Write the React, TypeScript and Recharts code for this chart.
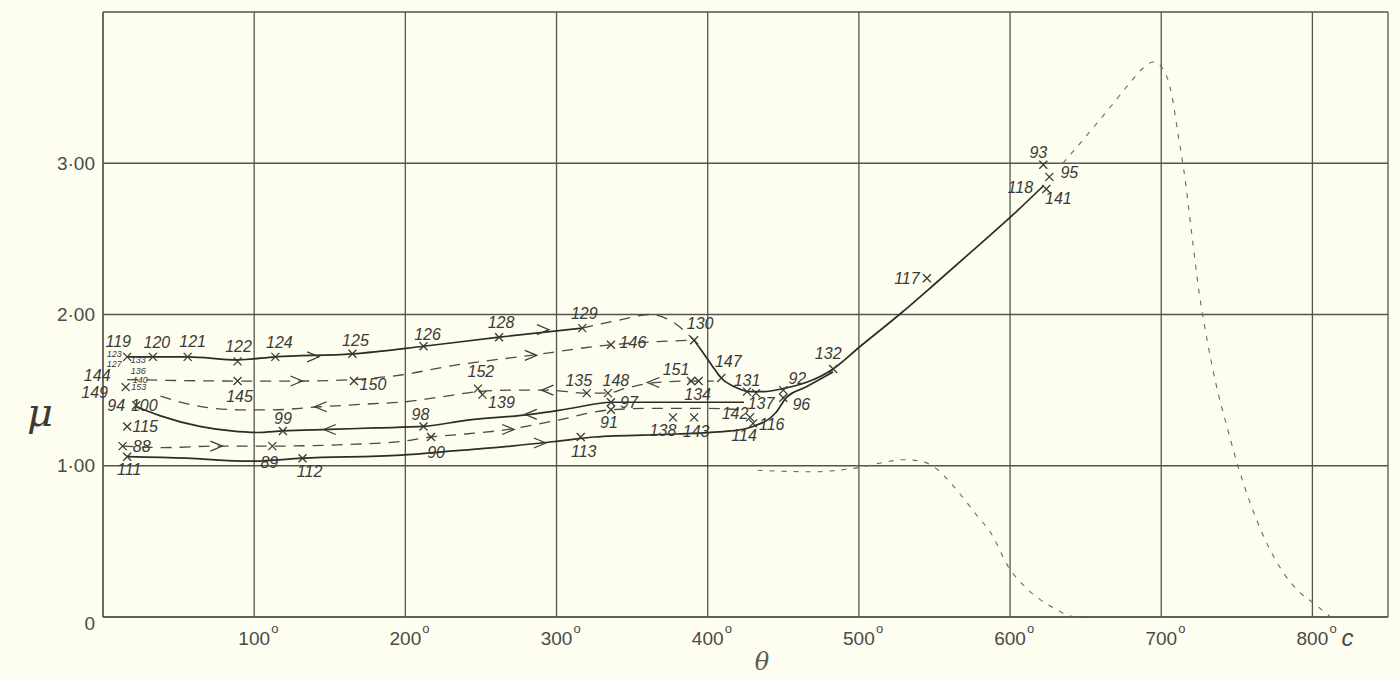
import React from 'react';
import { ComposedChart, Line, Scatter, XAxis, YAxis, CartesianGrid } from 'recharts';

// permeability μ against temperature θ (°C): [θ, μ]
const heatTop: [number, number][] = [[16, 1.72], [33, 1.72], [56, 1.72], [89, 1.7], [114, 1.72], [165, 1.74], [212, 1.79], [262, 1.85], [317, 1.91]];
const heatTopDash: [number, number][] = [[317, 1.91], [340, 1.96], [362, 2.0], [377, 1.95], [391, 1.83]];
const drop130: [number, number][] = [[391, 1.83], [396, 1.76], [403, 1.66], [409, 1.58], [418, 1.52], [426, 1.49]];
const mainRise: [number, number][] = [[426, 1.49], [437, 1.49], [450, 1.51], [465, 1.55], [483, 1.64], [501, 1.79], [528, 2.01], [550, 2.2], [575, 2.42], [602, 2.66], [622, 2.85]];
const heatMid: [number, number][] = [[16, 1.57], [89, 1.56], [128, 1.56], [166, 1.57], [197, 1.6], [230, 1.66], [283, 1.73], [336, 1.8], [365, 1.82], [391, 1.83]];
const coolMid: [number, number][] = [[38, 1.46], [60, 1.4], [90, 1.37], [112, 1.37], [144, 1.39], [178, 1.41], [197, 1.42], [220, 1.45], [248, 1.49], [270, 1.5], [294, 1.5], [320, 1.48], [334, 1.48], [345, 1.51], [365, 1.55], [389, 1.56], [404, 1.56]];
const coolLow: [number, number][] = [[22, 1.39], [38, 1.33], [64, 1.26], [85, 1.23], [102, 1.22], [119, 1.23], [150, 1.24], [180, 1.25], [212, 1.26], [240, 1.3], [283, 1.34], [310, 1.38], [336, 1.42], [380, 1.42], [424, 1.42]];
const heatLow: [number, number][] = [[13, 1.13], [40, 1.12], [75, 1.13], [112, 1.13], [160, 1.14], [197, 1.16], [217, 1.19], [240, 1.21], [268, 1.24], [300, 1.3], [336, 1.37], [365, 1.38], [395, 1.38], [424, 1.37]];
const heatBottom: [number, number][] = [[16, 1.06], [55, 1.05], [97, 1.03], [132, 1.05], [197, 1.07], [234, 1.1], [270, 1.13], [307, 1.17], [325, 1.19], [380, 1.21], [415, 1.23], [430, 1.26], [445, 1.35], [452, 1.45], [465, 1.52], [483, 1.62]];
const lowRight: [number, number][] = [[433, 0.97], [470, 0.96], [486, 0.97], [501, 0.99], [515, 1.02], [530, 1.04], [541, 1.03], [550, 0.99], [563, 0.86], [579, 0.66], [587, 0.56], [599, 0.33], [612, 0.18], [627, 0.07], [645, 0], [660, 0]];
const highRight: [number, number][] = [[635, 3.0], [647, 3.14], [667, 3.38], [680, 3.54], [687, 3.62], [695, 3.67], [702, 3.61], [707, 3.45], [711, 3.2], [715, 2.95], [720, 2.55], [725, 2.15], [730, 1.85], [736, 1.55], [744, 1.24], [751, 0.99], [764, 0.62], [781, 0.29], [792, 0.16], [801, 0.09], [812, 0]];

// numbered observations: [number, θ, μ]
const observations: [string, number, number][] = [
  ['119', 16, 1.72], ['123', 16, 1.72], ['120', 33, 1.72], ['121', 56, 1.72], ['122', 89, 1.69], ['124', 114, 1.72],
  ['125', 165, 1.74], ['126', 212, 1.79], ['128', 262, 1.85], ['129', 317, 1.91], ['130', 391, 1.83], ['146', 336, 1.8],
  ['147', 409, 1.58], ['131', 426, 1.49], ['137', 432, 1.48], ['151', 389, 1.56], ['134', 394, 1.56], ['152', 248, 1.51],
  ['139', 251, 1.47], ['135', 320, 1.48], ['148', 334, 1.48], ['97', 336, 1.42], ['91', 336, 1.37], ['98', 212, 1.26],
  ['90', 217, 1.19], ['113', 316, 1.19], ['138', 377, 1.32], ['143', 391, 1.32], ['142', 428, 1.32], ['114', 430, 1.28],
  ['116', 445, 1.35], ['92', 450, 1.5], ['96', 450, 1.45], ['132', 483, 1.64], ['117', 545, 2.24], ['93', 622, 2.99],
  ['95', 626, 2.91], ['118', 622, 2.84], ['141', 624, 2.83], ['127', 16, 1.69], ['133', 16, 1.69], ['136', 16, 1.62],
  ['140', 16, 1.57], ['144', 16, 1.58], ['153', 15, 1.52], ['149', 15, 1.52], ['94', 22, 1.4], ['100', 22, 1.4],
  ['115', 16, 1.26], ['88', 13, 1.13], ['111', 16, 1.06], ['89', 112, 1.13], ['112', 132, 1.05], ['99', 119, 1.23],
  ['145', 89, 1.56], ['150', 166, 1.56],
];

// arrowheads along the curves: heating (→) and cooling (←)
const arrowsHeat: [number, number][] = [[139, 1.72], [291, 1.9], [128, 1.56], [283, 1.73], [75, 1.13], [268, 1.24], [289, 1.15]];
const arrowsCool: [number, number][] = [[144, 1.39], [294, 1.5], [364, 1.55], [150, 1.24], [283, 1.34]];

const xTicks = [0, 100, 200, 300, 400, 500, 600, 700, 800, 850];
const yTicks = [0, 1, 2, 3, 4];
const yTickText: Record<number, string> = { 0: '0', 1: '1·00', 2: '2·00', 3: '3·00' };

// where each number is written relative to its cross (px)
const labelAt: Record<string, [number, number]> = {
  '119': [-9, -15], '123': [-13, -3], '120': [4, -14], '121': [5, -15], '122': [1, -15], '124': [4, -14], '125': [3, -13],
  '126': [4, -12], '128': [2, -15], '129': [2, -15], '130': [6, -17], '146': [22, -2], '147': [7, -17], '131': [0, -11],
  '137': [5, 10], '151': [-15, -12], '134': [-1, 13], '152': [3, -17], '139': [19, 8], '135': [-8, -13], '148': [8, -13],
  '97': [18, 0], '91': [-2, 13], '98': [-3, -12], '90': [5, 15], '113': [3, 14], '138': [-10, 13], '143': [2, 14],
  '142': [-15, -4], '114': [-9, 12], '116': [-4, 12], '92': [14, -12], '96': [18, 7], '132': [-5, -15], '117': [-20, 0],
  '93': [-5, -12], '95': [20, -4], '118': [-23, 0], '141': [12, 10], '127': [-13, 3], '133': [11, -1], '136': [11, -1],
  '140': [13, 0], '144': [-30, -3], '153': [13, 0], '149': [-31, 5], '94': [-20, 0], '100': [8, 0], '115': [18, 0],
  '88': [19, 0], '111': [2, 13], '89': [-3, 16], '112': [7, 13], '99': [0, -12], '145': [2, 15], '150': [19, 3],
};
const smallLabels = ['123', '127', '133', '136', '140', '153'];
const noCross = ['119', '127', '133', '136', '140', '144', '149', '94', '118', '116'];

const pts = (a: [number, number][]) => a.map(([t, mu]) => ({ t, mu }));
const obsData = observations.map(([n, t, mu]) => ({ n, t, mu }));

const INK = '#3a3a36';
const GRID = '#55554f';
const FONT = '"Liberation Sans", Arial, sans-serif';

const ObsMark = (props: any) => {
  const { cx, cy, payload } = props;
  if (cx == null || cy == null) return null;
  const [dx, dy] = labelAt[payload.n] ?? [10, -10];
  const small = smallLabels.includes(payload.n);
  return (
    <g>
      {!noCross.includes(payload.n) && (
        <path d={`M${cx - 4},${cy - 4}L${cx + 4},${cy + 4}M${cx + 4},${cy - 4}L${cx - 4},${cy + 4}`} stroke={INK} strokeWidth={1.3} />
      )}
      <text x={cx + dx} y={cy + dy} textAnchor="middle" dominantBaseline="central" fontFamily={FONT}
        fontStyle="italic" fontSize={small ? 9 : 16} fill={INK}>{payload.n}</text>
    </g>
  );
};

const arrowShape = (dir: number) => (props: any) => {
  const { cx, cy } = props;
  if (cx == null || cy == null) return null;
  return <path d={`M${cx - 6 * dir},${cy - 5}L${cx + 6 * dir},${cy}L${cx - 6 * dir},${cy + 5}`} fill="none" stroke={INK} strokeWidth={1.2} />;
};

const YTick = ({ x, y, payload }: any) => {
  const s = yTickText[payload.value];
  if (!s) return null;
  return (
    <text x={x} y={y + (payload.value === 0 ? 6 : 0)} textAnchor="end" dominantBaseline="central"
      fontFamily={FONT} fontSize={19} fill="#4a4a46">{s}</text>
  );
};

const XTick = ({ x, y, payload }: any) => {
  const v = payload.value;
  if (v === 0 || v === 850) return null;
  return (
    <g fontFamily={FONT} fill="#4a4a46">
      <text x={x} y={y + 13} textAnchor="middle" dominantBaseline="central" fontSize={19}>{v}</text>
      <text x={x + 17} y={y + 3} dominantBaseline="central" fontSize={13}>o</text>
      {v === 800 && <text x={x + 29} y={y + 12} dominantBaseline="central" fontSize={24} fontStyle="italic">c</text>}
    </g>
  );
};

const solid = { stroke: '#2c2c28', strokeWidth: 1.7 };
const dashed = { stroke: '#4a4a46', strokeWidth: 1.3, strokeDasharray: '11 8' };
const fine = { stroke: '#6a6a64', strokeWidth: 1.1, strokeDasharray: '5 7' };

const curves = [
  { key: 'heatTop', data: heatTop, style: solid },
  { key: 'heatTopDash', data: heatTopDash, style: dashed },
  { key: 'drop130', data: drop130, style: solid },
  { key: 'mainRise', data: mainRise, style: solid },
  { key: 'heatMid', data: heatMid, style: dashed },
  { key: 'coolMid', data: coolMid, style: dashed },
  { key: 'coolLow', data: coolLow, style: solid },
  { key: 'heatLow', data: heatLow, style: dashed },
  { key: 'heatBottom', data: heatBottom, style: solid },
  { key: 'lowRight', data: lowRight, style: fine },
  { key: 'highRight', data: highRight, style: fine },
];

export default function App() {
  return (
    <div style={{ position: 'absolute', left: 0, top: 0, width: 1400, height: 680, background: '#fdfdf0' }}>
      <ComposedChart width={1400} height={680} margin={{ top: 12, right: 12, bottom: 13, left: 0 }}>
        <CartesianGrid stroke={GRID} strokeWidth={1.3} />
        <XAxis
          type="number"
          dataKey="t"
          domain={[0, 850]}
          ticks={xTicks}
          interval={0}
          tickLine={false}
          axisLine={{ stroke: GRID, strokeWidth: 1.3 }}
          tick={<XTick />}
          height={50}
          label={{
            content: () => (
              <text x={762} y={662} textAnchor="middle" dominantBaseline="central" fontFamily='"DejaVu Serif", serif'
                fontStyle="italic" fontSize={24} fill="#5a5a55">θ</text>
            ),
          }}
        />
        <YAxis
          type="number"
          dataKey="mu"
          domain={[0, 4]}
          ticks={yTicks}
          interval={0}
          tickLine={false}
          axisLine={{ stroke: GRID, strokeWidth: 1.3 }}
          tick={<YTick />}
          width={103}
          label={{
            content: () => (
              <text x={40} y={412} textAnchor="middle" dominantBaseline="central" fontFamily='"DejaVu Serif", serif'
                fontStyle="italic" fontSize={40} fill="#3a3a36">μ</text>
            ),
          }}
        />
        {curves.map(c => (
          <Line
            key={c.key}
            data={pts(c.data)}
            dataKey="mu"
            type="monotone"
            dot={false}
            activeDot={false}
            isAnimationActive={false}
            {...c.style}
          />
        ))}
        <Scatter data={pts(arrowsHeat)} dataKey="mu" shape={arrowShape(1)} isAnimationActive={false} />
        <Scatter data={pts(arrowsCool)} dataKey="mu" shape={arrowShape(-1)} isAnimationActive={false} />
        <Scatter data={obsData} dataKey="mu" shape={ObsMark} isAnimationActive={false} />
      </ComposedChart>
    </div>
  );
}
